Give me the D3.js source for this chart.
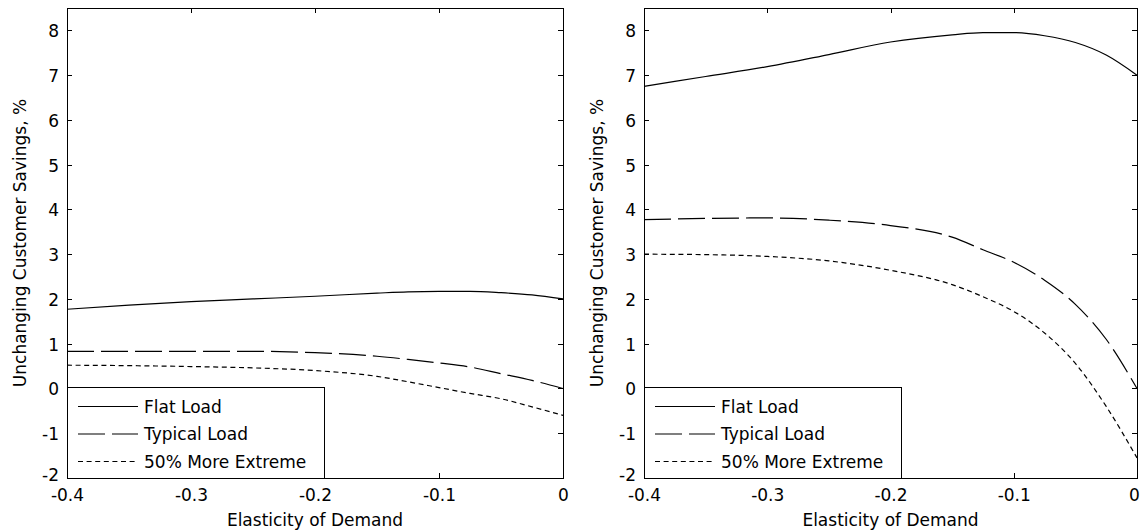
<!DOCTYPE html>
<html>
<head>
<meta charset="utf-8">
<script src="https://cdn.jsdelivr.net/npm/d3@7"></script>
<style>
  html, body { margin: 0; padding: 0; background: #fff; }
  svg { display: block; }
  text { font-family: "DejaVu Sans", sans-serif; font-size: 17px; fill: #000; }
</style>
</head>
<body>
<svg id="chart" width="1141" height="531"></svg>
<script>
// ---- data ----
const elasticity = [-0.4, -0.35, -0.3, -0.25, -0.2, -0.15, -0.125, -0.1, -0.075, -0.05, -0.025, 0];

const leftFlat     = [1.77, 1.86, 1.94, 2.00, 2.06, 2.13, 2.16, 2.17, 2.17, 2.14, 2.09, 2.00];
const leftTypical  = [0.83, 0.83, 0.83, 0.83, 0.80, 0.72, 0.65, 0.57, 0.48, 0.33, 0.18, 0.00];
const leftExtreme  = [0.52, 0.51, 0.49, 0.46, 0.40, 0.27, 0.15, 0.02, -0.11, -0.23, -0.41, -0.60];

const rightFlat    = [6.75, 6.97, 7.19, 7.46, 7.74, 7.90, 7.95, 7.95, 7.88, 7.73, 7.45, 7.00];
const rightTypical = [3.77, 3.80, 3.81, 3.76, 3.64, 3.38, 3.10, 2.82, 2.42, 1.88, 1.10, 0.00];
const rightExtreme = [3.00, 2.99, 2.95, 2.85, 2.64, 2.32, 2.05, 1.72, 1.24, 0.56, -0.40, -1.55];

const seriesNames = ["Flat Load", "Typical Load", "50% More Extreme"];
const xTicks = [-0.4, -0.3, -0.2, -0.1, 0];
const xTickLabels = ["-0.4", "-0.3", "-0.2", "-0.1", "0"];
const yTicks = [-2, -1, 0, 1, 2, 3, 4, 5, 6, 7, 8];
const yTickLabels = ["-2", "-1", "0", "1", "2", "3", "4", "5", "6", "7", "8"];
const xDomain = [-0.4, 0];
const yDomain = [-2, 8.5];
const xLabel = "Elasticity of Demand";
const yLabel = "Unchanging Customer Savings, %";

// ---- styles ----
const dashStyles = [null, "27,7", "5,3.6"];

const svg = d3.select("#chart");

const panels = [
  { left: 67, right: 563, top: 8, bottom: 478, series: [leftFlat, leftTypical, leftExtreme], ylabX: 26 },
  { left: 644, right: 1137, top: 8, bottom: 478, series: [rightFlat, rightTypical, rightExtreme], ylabX: 603 }
];

panels.forEach((p, pi) => {
  const x = d3.scaleLinear().domain(xDomain).range([p.left, p.right]);
  const y = d3.scaleLinear().domain(yDomain).range([p.bottom, p.top]);
  const g = svg.append("g");
  const tickLen = 5;

  // curves
  const line = d3.line()
    .x((d, i) => x(elasticity[i]))
    .y(d => y(d))
    .curve(d3.curveMonotoneX);

  p.series.forEach((s, k) => {
    const path = g.append("path")
      .datum(s)
      .attr("d", line)
      .attr("fill", "none")
      .attr("stroke", "#000")
      .attr("stroke-width", 1.2);
    if (dashStyles[k]) path.attr("stroke-dasharray", dashStyles[k]);
  });

  // axes (box with inner ticks on all sides)
  const axB = d3.axisBottom(x).tickValues(xTicks).tickSize(-tickLen).tickFormat((d, i) => xTickLabels[i]);
  const axT = d3.axisTop(x).tickValues(xTicks).tickSize(-tickLen).tickFormat("");
  const axL = d3.axisLeft(y).tickValues(yTicks).tickSize(-tickLen).tickFormat((d, i) => yTickLabels[i]).tickPadding(8);
  const axR = d3.axisRight(y).tickValues(yTicks).tickSize(-tickLen).tickFormat("");

  const gb = g.append("g").attr("transform", `translate(0,${p.bottom})`).call(axB);
  const gt = g.append("g").attr("transform", `translate(0,${p.top})`).call(axT);
  const gl = g.append("g").attr("transform", `translate(${p.left},0)`).call(axL);
  const gr = g.append("g").attr("transform", `translate(${p.right},0)`).call(axR);

  [gb, gt, gl, gr].forEach(a => {
    a.select(".domain").remove();
    a.selectAll("line").attr("stroke", "#000").attr("shape-rendering", "crispEdges");
    a.selectAll("text").attr("font-family", "DejaVu Sans, sans-serif").attr("font-size", 17).attr("fill", "#000");
  });
  gb.selectAll("text").attr("dy", "0.71em").attr("y", 11);
  if (pi === 1) {
    gb.selectAll("text").filter(d => d === 0).attr("x", -3);
  }
  gl.selectAll("text").attr("dy", "0.38em");
  gl.selectAll("text").filter(d => d === -2).attr("y", -4);

  // frame
  g.append("rect")
    .attr("x", p.left).attr("y", p.top)
    .attr("width", p.right - p.left).attr("height", p.bottom - p.top)
    .attr("fill", "none").attr("stroke", "#000").attr("stroke-width", 1)
    .attr("shape-rendering", "crispEdges");

  // axis labels
  g.append("text")
    .attr("x", (p.left + p.right) / 2).attr("y", 526)
    .attr("text-anchor", "middle")
    .text(xLabel);
  g.append("text")
    .attr("transform", `translate(${p.ylabX},${(p.top + p.bottom) / 2}) rotate(-90)`)
    .attr("text-anchor", "middle")
    .text(yLabel);

  // legend
  const lgTop = y(0) - 1, lgW = 257, lgLeft = p.left;
  const lg = g.append("g");
  lg.append("rect")
    .attr("x", lgLeft).attr("y", lgTop)
    .attr("width", lgW).attr("height", p.bottom - lgTop)
    .attr("fill", "#fff").attr("stroke", "#000")
    .attr("shape-rendering", "crispEdges");
  const rowOffsets = [19, 46.5, 74];
  seriesNames.forEach((name, k) => {
    const ry = lgTop + rowOffsets[k];
    const l = lg.append("line")
      .attr("x1", lgLeft + 11).attr("x2", lgLeft + 71)
      .attr("y1", ry).attr("y2", ry)
      .attr("stroke", "#000").attr("stroke-width", 1.2);
    if (dashStyles[k]) l.attr("stroke-dasharray", dashStyles[k]);
    lg.append("text")
      .attr("x", lgLeft + 77).attr("y", ry + 6.5)
      .text(name);
  });
});
</script>
</body>
</html>
